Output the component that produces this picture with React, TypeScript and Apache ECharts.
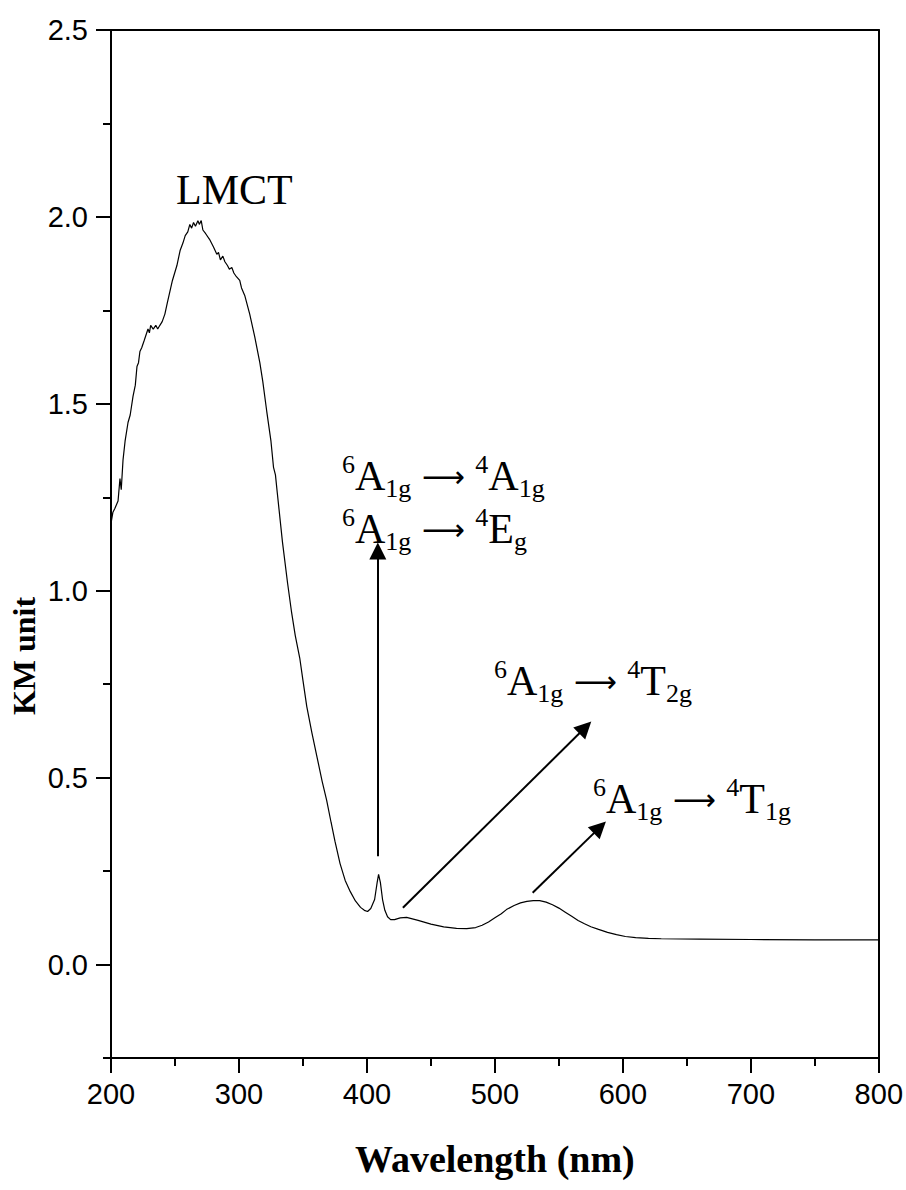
import React, { useEffect, useRef } from "react";
import * as echarts from "echarts";

// Wavelength (nm)
const wavelength = [
  200, 201.5, 203, 205.5, 207, 208, 209.4, 211, 213.3, 215, 217.2, 219, 220.3, 221.5, 222.6, 224, 226, 228.9,
  230, 231, 233, 235, 236.5, 238.2, 240, 242.1, 244, 246, 248, 251.5, 254, 256.2, 258, 260, 261.6, 263,
  264.5, 266, 267.9, 269, 270.5, 271.8, 274, 277, 280, 282.7, 284, 285.5, 287.4, 289, 291, 292.5, 294.4,
  296, 298, 300.6, 302, 304.5, 308.4, 312.3, 316.3, 318.6, 321.7, 325, 327, 328.5, 330, 334, 338, 341,
  344, 347.5, 350, 353, 357, 361, 365, 368.5, 372, 375, 379, 383, 387, 391, 395, 398, 400.5, 403, 406,
  408, 409.1, 410.5, 412.2, 414, 416.1, 418.5, 421.6, 426, 431, 440, 450, 460, 470, 478, 485, 490, 495,
  500, 505, 509, 515, 520, 525, 530, 535, 540, 545, 550, 555, 560, 565, 570, 575, 581, 588, 595, 602,
  610, 620, 630, 660, 700, 750, 800,
];

// Kubelka-Munk units
const kmUnit = [
  1.18, 1.21, 1.22, 1.24, 1.3, 1.27, 1.35, 1.4, 1.45, 1.47, 1.52, 1.55, 1.6, 1.61, 1.64, 1.65, 1.67, 1.7,
  1.69, 1.71, 1.7, 1.71, 1.7, 1.71, 1.72, 1.74, 1.77, 1.8, 1.83, 1.87, 1.91, 1.93, 1.95, 1.96, 1.98, 1.97,
  1.985, 1.975, 1.99, 1.98, 1.99, 1.965, 1.955, 1.94, 1.92, 1.9, 1.905, 1.885, 1.895, 1.88, 1.87, 1.86, 1.865,
  1.85, 1.84, 1.83, 1.81, 1.79, 1.74, 1.68, 1.61, 1.56, 1.48, 1.4, 1.33, 1.31, 1.26, 1.13, 1.02, 0.945,
  0.88, 0.82, 0.76, 0.69, 0.62, 0.555, 0.49, 0.44, 0.38, 0.33, 0.27, 0.225, 0.195, 0.17, 0.153, 0.145, 0.142, 0.15, 0.174,
  0.22, 0.241, 0.22, 0.174, 0.145, 0.128, 0.12, 0.12, 0.125, 0.126, 0.118, 0.108, 0.101, 0.097, 0.096, 0.099, 0.105, 0.114,
  0.125, 0.136, 0.147, 0.158, 0.165, 0.169, 0.171, 0.171, 0.167, 0.16, 0.151, 0.14, 0.129, 0.118, 0.109, 0.101, 0.094, 0.086, 0.08, 0.075,
  0.072, 0.07, 0.069, 0.068, 0.067, 0.066, 0.066,
];

const xTickLabels = [200, 300, 400, 500, 600, 700, 800];
const yMajorTicks = [0, 0.5, 1.0, 1.5, 2.0, 2.5];
const yMinorTicks = [-0.25, 0.25, 0.75, 1.25, 1.75, 2.25];

// Annotation arrows (data coordinates): start -> end
const arrowStartX = [408.5, 428.1, 529.5];
const arrowStartY = [0.29, 0.152, 0.192];
const arrowEndX = [408.5, 570.6, 582.0];
const arrowEndY = [1.106, 0.634, 0.367];

const serif = '"Liberation Serif", "Times New Roman", serif';
const sans = '"Liberation Sans", Arial, sans-serif';

const rich = {
  m: { fontSize: 42, lineHeight: 50, fontFamily: serif, color: "#000" },
  arr: { fontSize: 30, lineHeight: 50, fontFamily: '"DejaVu Sans"', color: "#000" },
  sp: { fontSize: 42, lineHeight: 50, fontFamily: serif, color: "#000" },
  sup: { fontSize: 26, lineHeight: 26, fontFamily: serif, color: "#000", verticalAlign: "top" },
  sub: { fontSize: 26, lineHeight: 26, fontFamily: serif, color: "#000", verticalAlign: "bottom" },
};

function transitionText(to: string, toSub: string) {
  return `{sup|6}{m|A}{sub|1g}{sp| }{arr|\u27F6}{sp| }{sup|4}{m|${to}}{sub|${toSub}}`;
}

export default function App() {
  const ref = useRef<HTMLDivElement>(null);
  useEffect(() => {
    if (!ref.current) return;
    const chart = echarts.init(ref.current, undefined, { renderer: "svg" });
    const data = wavelength.map((w, i) => [w, kmUnit[i]]);
    const axisLine = { show: true, onZero: false, lineStyle: { color: "#000", width: 2 } };
    const option: any = {
      animation: false,
      backgroundColor: "#fff",
      grid: { left: 111, right: 26, top: 30, bottom: 132, containLabel: false },
      xAxis: [
        {
          type: "value",
          position: "bottom",
          min: xTickLabels[0],
          max: xTickLabels[xTickLabels.length - 1],
          interval: 100,
          axisLine,
          axisTick: { show: true, inside: false, length: 15, lineStyle: { color: "#000", width: 2 } },
          minorTick: { show: true, splitNumber: 2, length: 8, lineStyle: { color: "#000", width: 2 } },
          axisLabel: { fontSize: 29, fontFamily: sans, color: "#000", margin: 21, showMinLabel: true, showMaxLabel: true },
          splitLine: { show: false },
          name: "Wavelength (nm)",
          nameLocation: "middle",
          nameGap: 82,
          nameTextStyle: { fontSize: 38, fontWeight: "bold", fontFamily: serif, color: "#000" },
        },
        {
          type: "value",
          position: "top",
          min: 200,
          max: 800,
          interval: 100,
          axisLine,
          axisTick: { show: false },
          axisLabel: { show: false },
          splitLine: { show: false },
        },
      ],
      yAxis: [
        {
          type: "value",
          position: "left",
          min: -0.25,
          max: 2.5,
          axisLine,
          axisTick: { show: true, inside: false, length: 15, customValues: yMajorTicks, lineStyle: { color: "#000", width: 2 } },
          axisLabel: {
            customValues: yMajorTicks,
            fontSize: 29,
            fontFamily: sans,
            color: "#000",
            margin: 23,
            formatter: (v: number) => v.toFixed(1),
          },
          splitLine: { show: false },
        },
        {
          type: "value",
          position: "left",
          min: -0.25,
          max: 2.5,
          axisLine: { show: false, onZero: false },
          axisTick: { show: true, inside: false, length: 8, customValues: yMinorTicks, lineStyle: { color: "#000", width: 2 } },
          axisLabel: { show: false },
          splitLine: { show: false },
        },
        {
          type: "value",
          position: "right",
          min: -0.25,
          max: 2.5,
          axisLine,
          axisTick: { show: false },
          axisLabel: { show: false },
          splitLine: { show: false },
        },
      ],
      series: [
        {
          type: "line",
          xAxisIndex: 0,
          yAxisIndex: 0,
          data,
          showSymbol: false,
          symbol: "none",
          smooth: false,
          lineStyle: { color: "#000", width: 1.2 },
          silent: true,
          markLine: {
            silent: true,
            symbol: ["none", "triangle"],
            symbolSize: 17,
            label: { show: false },
            emphasis: { disabled: true },
            lineStyle: { color: "#000", width: 2, type: "solid" },
            itemStyle: { color: "#000" },
            data: arrowStartX.map((x, i) => [
              { coord: [x, arrowStartY[i]] },
              { coord: [arrowEndX[i], arrowEndY[i]] },
            ]),
          },
        },
      ],
      graphic: [
        {
          type: "text",
          x: 24,
          y: 656,
          rotation: Math.PI / 2,
          style: { text: "KM unit", font: `bold 32px ${serif}`, fill: "#000", align: "center", verticalAlign: "middle" },
        },
        {
          type: "text",
          x: 176,
          y: 190,
          style: { text: "LMCT", font: `42px ${serif}`, fill: "#000", align: "left", verticalAlign: "middle" },
        },
        {
          type: "text",
          x: 342,
          y: 451,
          style: { text: transitionText("A", "1g"), rich, align: "left", verticalAlign: "top" },
        },
        {
          type: "text",
          x: 342,
          y: 504,
          style: { text: transitionText("E", "g"), rich, align: "left", verticalAlign: "top" },
        },
        {
          type: "text",
          x: 494,
          y: 656,
          style: { text: transitionText("T", "2g"), rich, align: "left", verticalAlign: "top" },
        },
        {
          type: "text",
          x: 593,
          y: 774,
          style: { text: transitionText("T", "1g"), rich, align: "left", verticalAlign: "top" },
        },
      ],
    };
    chart.setOption(option);
    return () => chart.dispose();
  }, []);
  return <div ref={ref} style={{ position: "absolute", left: 0, top: 0, width: 906, height: 1190 }} />;
}
